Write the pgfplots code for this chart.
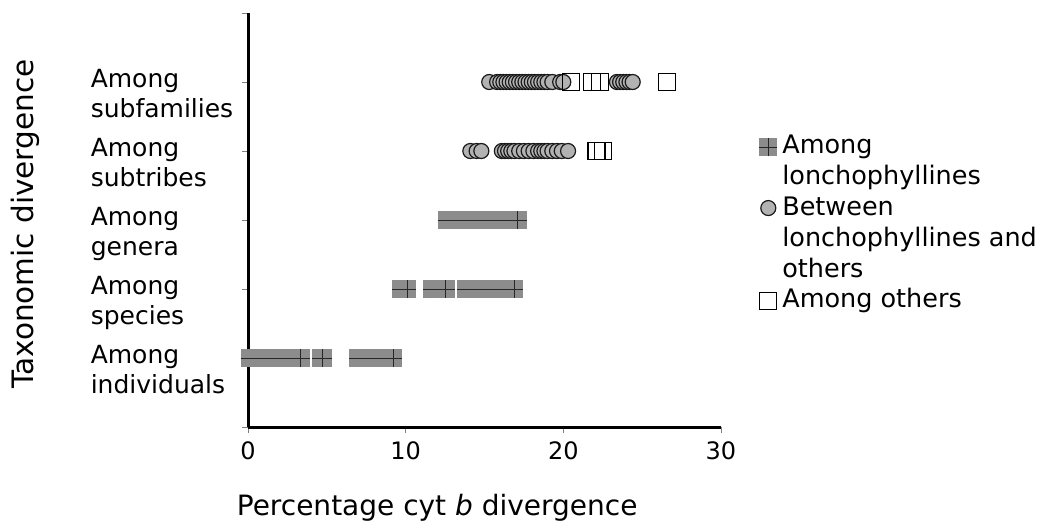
\documentclass[border=0pt]{standalone}
\usepackage{pgfplots}
\pgfplotsset{compat=1.18}
\usepackage{fontspec}
\setmainfont{DejaVu Sans}

% gray square with a dark cross, as in the lonchophylline series
\pgfdeclareplotmark{sqplus}{%
  \pgfpathrectangle{\pgfqpoint{-\pgfplotmarksize}{-\pgfplotmarksize}}{\pgfqpoint{2\pgfplotmarksize}{2\pgfplotmarksize}}%
  \pgfusepathqfill
  \pgfpathmoveto{\pgfqpoint{-\pgfplotmarksize}{0pt}}%
  \pgfpathlineto{\pgfqpoint{\pgfplotmarksize}{0pt}}%
  \pgfpathmoveto{\pgfqpoint{0pt}{-\pgfplotmarksize}}%
  \pgfpathlineto{\pgfqpoint{0pt}{\pgfplotmarksize}}%
  \pgfusepathqstroke
}
\newcommand\lab[2]{\makebox[150pt][l]{\begin{tabular}[t]{@{}l@{}}#1\\#2\end{tabular}}}
% legend marker raised to sit beside the first line of its entry
\pgfplotsset{myleg/.style={legend image code/.code={\draw[##1] plot coordinates {(0pt,#1)};}}}

\begin{document}
\begin{tikzpicture}
\path[use as bounding box] (0,0) rectangle (1039pt,-525pt);
\begin{axis}[
  at={(248pt,-427pt)}, anchor=south west,
  scale only axis, width=473pt, height=414pt,
  xmin=0, xmax=30, ymin=0, ymax=6,
  clip=false,
  axis lines=left,
  axis line style={-, line width=3pt, black},
  tick align=outside, major tick length=6pt,
  tick style={black!50, line width=1pt},
  xtick={0,10,20,30},
  ytick={0,...,6},
  yticklabels={{},\lab{Among}{individuals},\lab{Among}{species},\lab{Among}{genera},\lab{Among}{subtribes},\lab{Among}{subfamilies},{}},
  /pgf/number format/assume math mode=true,
  xticklabel style={font=\fontsize{24}{28}\selectfont, yshift=-5pt},
  yticklabel style={font=\fontsize{25}{30}\selectfont, anchor=base east, inner sep=0pt, xshift=-1pt, yshift=-5pt},
  xlabel={Percentage cyt \emph{b} divergence},
  xlabel style={at={(axis description cs:0.40,-0.2126)}, anchor=base, font=\fontsize{28}{34}\selectfont},
  ylabel={Taxonomic divergence},
  ylabel style={at={(axis description cs:-0.4715,0.49)}, anchor=center, font=\fontsize{29.5}{34}\selectfont},
  legend style={at={(axis description cs:1.081,0.712)}, anchor=north west,
    draw=none, fill=none, inner sep=0pt, outer sep=0pt,
    column sep=5pt, row sep=7pt,
    font=\fontsize{25.5}{31}\selectfont,
    nodes={inner sep=0pt}, cells={align=left}},
  legend cell align=left,
]
\addplot[only marks, mark=sqplus, mark size=9pt,
  mark options={fill=black!45, draw=black!85, line width=0.9pt}, myleg=12pt] table {
x y
0.1 1
0.35 1
0.6 1
0.9 1
1.25 1
1.6 1
1.95 1
2.3 1
2.6 1
2.9 1
3.15 1
3.35 1
4.6 1
4.75 1
7.0 1
7.25 1
7.5 1
7.8 1
8.1 1
8.4 1
8.7 1
9.0 1
9.2 1
9.7 2
9.9 2
10.1 2
11.7 2
12.0 2
12.3 2
12.55 2
13.8 2
14.1 2
14.4 2
14.7 2
15.0 2
15.3 2
15.6 2
15.9 2
16.2 2
16.5 2
16.9 2
12.6 3
12.9 3
13.2 3
13.5 3
13.8 3
14.1 3
14.4 3
14.7 3
15.0 3
15.3 3
15.6 3
15.9 3
16.2 3
16.5 3
16.8 3
17.1 3
};
\addlegendentry{\strut Among\\lonchophyllines\strut}
\addplot[only marks, mark=*, mark size=7.5pt,
  mark options={fill=black!30, draw=black!90, line width=1.2pt}, myleg=28pt] table {
x y
14.1 4
14.5 4
14.8 4
16.1 4
16.3 4
16.5 4
16.7 4
16.9 4
17.2 4
17.5 4
17.8 4
18.1 4
18.4 4
18.6 4
18.8 4
19.0 4
19.3 4
19.6 4
19.9 4
20.3 4
15.3 5
15.8 5
16.0 5
16.2 5
16.4 5
16.6 5
16.8 5
17.0 5
17.2 5
17.4 5
17.6 5
17.8 5
18.0 5
18.2 5
18.4 5
18.6 5
18.8 5
19.0 5
19.3 5
19.8 5
20.0 5
23.4 5
23.6 5
23.8 5
24.0 5
24.2 5
24.4 5
};
\addlegendentry{\strut Between\\lonchophyllines and\\others\strut}
\addplot[only marks, mark=square, mark size=8.5pt,
  mark options={draw=black, line width=1.2pt}, myleg=-3.5pt] table {
x y
22.1 4
22.5 4
20.5 5
21.8 5
22.35 5
26.6 5
};
\addlegendentry{\strut Among others}
\end{axis}
\end{tikzpicture}
\end{document}
